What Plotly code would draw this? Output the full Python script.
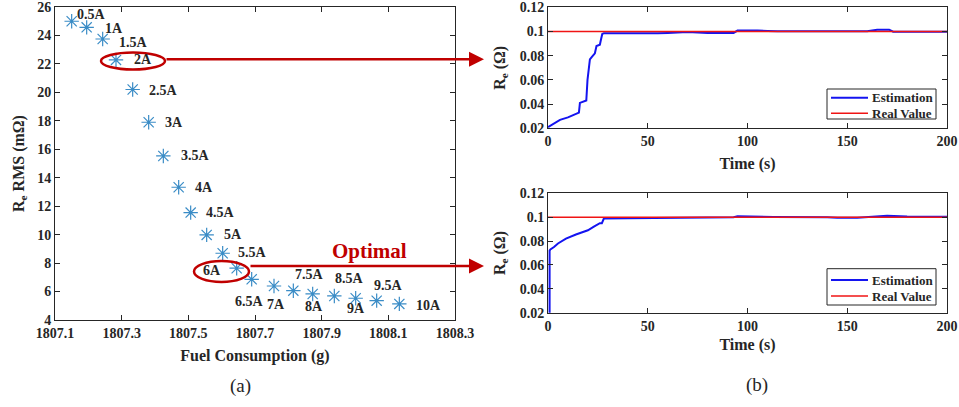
import plotly.graph_objects as go

# ---------------- data ----------------
current_labels = ["0.5A", "1A", "1.5A", "2A", "2.5A", "3A", "3.5A", "4A", "4.5A", "5A",
                  "5.5A", "6A", "6.5A", "7A", "7.5A", "8A", "8.5A", "9A", "9.5A", "10A"]
fuel_consumption = [1807.15, 1807.195, 1807.243, 1807.283, 1807.333, 1807.381, 1807.425,
                    1807.471, 1807.507, 1807.555, 1807.603, 1807.645, 1807.69, 1807.757,
                    1807.815, 1807.873, 1807.938, 1808.002, 1808.065, 1808.133]
re_rms = [25.0, 24.57, 23.75, 22.28, 20.2, 17.9, 15.53, 13.33, 11.55, 9.98,
          8.69, 7.64, 6.86, 6.39, 6.06, 5.83, 5.69, 5.53, 5.36, 5.13]

time_2a = [0, 3, 6, 10, 14, 15.5, 16, 18.5, 19.2, 19.8, 20.3, 21, 22, 23.5, 24.3, 26, 26.5,
           27.2, 28, 35, 45, 50, 55, 60, 70, 80, 93, 95, 100, 105, 110, 115, 160, 163, 165,
           171, 173, 185, 200]
est_2a = [0.021, 0.024, 0.027, 0.029, 0.032, 0.033, 0.041, 0.043, 0.043, 0.06, 0.07, 0.077,
          0.079, 0.082, 0.088, 0.089, 0.093, 0.098, 0.0985, 0.0985, 0.0983, 0.098, 0.0985,
          0.0988, 0.0995, 0.0988, 0.0988, 0.1008, 0.101, 0.1008, 0.1005, 0.1002, 0.1002,
          0.1008, 0.1015, 0.1015, 0.0998, 0.0998, 0.0997]

time_6a = [0.8, 0.8, 1.2, 3, 5, 9, 14, 17, 19, 20, 23, 26, 27, 27.5, 28, 40, 60, 80, 93, 95,
           110, 113, 140, 145, 155, 160, 168, 170, 180, 200]
est_6a = [0.015, 0.072, 0.073, 0.075, 0.078, 0.082, 0.0855, 0.087, 0.0885, 0.089, 0.092,
          0.095, 0.095, 0.098, 0.0988, 0.099, 0.0993, 0.0997, 0.1, 0.1008, 0.1008, 0.1002,
          0.1, 0.0995, 0.0995, 0.1, 0.1005, 0.1012, 0.1005, 0.1003]

real_time = [0, 200]
real_value = [0.1, 0.1]

series_names = ["Estimation", "Real Value"]

left_x_ticks = [1807.1, 1807.3, 1807.5, 1807.7, 1807.9, 1808.1, 1808.3]
left_y_ticks = [4, 6, 8, 10, 12, 14, 16, 18, 20, 22, 24, 26]
right_x_ticks = [0, 50, 100, 150, 200]
right_y_ticks = [0.02, 0.04, 0.06, 0.08, 0.1, 0.12]
right_y_ticktext = ["0.02", "0.04", "0.06", "0.08", "0.1", "0.12"]

# label offsets (pixels) for each current label: style only
label_dx = [20, 27, 31, 27, 31, 25, 32, 25, 30, 26, 30, -25, -2, 2, 16, 1, 15, 0, 12, 29]
label_dy = [-7, 1, 3, 0, 1, 0, 0, 0, 0, 0, -1, 2, 22, 18, -16, 13, -17, 10, -15, 2]

# ---------------- layout helpers ----------------
W, H = 959, 407
FONT = "Liberation Serif"
INK = "#262626"
RED = "#C00000"
BLUE_LINE = "#1414F0"
RED_LINE = "#F01414"


def px_x(p):
    return min(1.0, max(0.0, p / W))


def px_y(p):
    return min(1.0, max(0.0, 1 - p / H))


def axis_style(**kw):
    d = dict(showline=True, linecolor=INK, linewidth=1, mirror="ticks", ticks="inside",
             ticklen=5, tickcolor=INK, showgrid=False, zeroline=False, automargin=False,
             ticklabeloverflow="allow",
             tickfont=dict(family=FONT, size=14, color=INK, weight="bold"))
    d.update(kw)
    return d


fig = go.Figure()

fig.add_trace(go.Scatter(
    x=fuel_consumption, y=re_rms, mode="markers", xaxis="x", yaxis="y",
    marker=dict(symbol="asterisk-open", size=12, color="#3A8CC6",
                line=dict(width=1.2, color="#3A8CC6")),
    showlegend=False))

for xa, ya, tt, ee in [("x2", "y2", time_2a, est_2a), ("x3", "y3", time_6a, est_6a)]:
    fig.add_trace(go.Scatter(x=tt, y=ee, mode="lines", name=series_names[0],
                             xaxis=xa, yaxis=ya, line=dict(color=BLUE_LINE, width=2),
                             showlegend=False))
    fig.add_trace(go.Scatter(x=real_time, y=real_value, mode="lines", name=series_names[1],
                             xaxis=xa, yaxis=ya, line=dict(color=RED_LINE, width=1.5),
                             showlegend=False))

title_font = dict(family=FONT, size=16, color=INK, weight="bold")

fig.update_layout(
    width=W, height=H, margin=dict(l=0, r=0, t=0, b=0),
    paper_bgcolor="white", plot_bgcolor="white",
    font=dict(family=FONT, color=INK),
    xaxis=axis_style(domain=[px_x(55), px_x(455)], range=[1807.1, 1808.3],
                     tickvals=left_x_ticks, ticktext=[f"{v:.1f}" for v in left_x_ticks],
                     anchor="y",
                     title=dict(text="Fuel Consumption (g)", font=title_font, standoff=10)),
    yaxis=axis_style(domain=[px_y(320), px_y(7)], range=[4, 26], tickvals=left_y_ticks,
                     anchor="x",
                     title=dict(text="R<sub>e</sub> RMS (mΩ)", font=title_font, standoff=8)),
    xaxis2=axis_style(domain=[px_x(548), px_x(947)], range=[0, 200], tickvals=right_x_ticks,
                      anchor="y2",
                      title=dict(text="Time (s)", font=title_font, standoff=9)),
    yaxis2=axis_style(domain=[px_y(128.3), px_y(7.3)], range=[0.02, 0.12],
                      tickvals=right_y_ticks, ticktext=right_y_ticktext, anchor="x2",
                      title=dict(text="R<sub>e</sub> (Ω)", font=title_font, standoff=10)),
    xaxis3=axis_style(domain=[px_x(548), px_x(947)], range=[0, 200], tickvals=right_x_ticks,
                      anchor="y3",
                      title=dict(text="Time (s)", font=title_font, standoff=6)),
    yaxis3=axis_style(domain=[px_y(312.7), px_y(193.3)], range=[0.02, 0.12],
                      tickvals=right_y_ticks, ticktext=right_y_ticktext, anchor="x3",
                      title=dict(text="R<sub>e</sub> (Ω)", font=title_font, standoff=10)),
)

# point labels
for lab, xv, yv, dx, dy in zip(current_labels, fuel_consumption, re_rms, label_dx, label_dy):
    fig.add_annotation(x=xv, y=yv, xref="x", yref="y", text=lab, showarrow=False,
                       xshift=dx, yshift=-dy,
                       font=dict(family=FONT, size=14, color=INK, weight="bold"))

# legends (MATLAB-style boxes inside each right panel)
for box_top, box_bot, row1, row2 in [(89, 119, 97.7, 113.3), (268.7, 305, 280, 296)]:
    fig.add_shape(type="rect", xref="paper", yref="paper",
                  x0=px_x(827), x1=px_x(936), y0=px_y(box_bot), y1=px_y(box_top),
                  line=dict(color=INK, width=1), fillcolor="white", layer="above")
    for name, color, width, yy in [(series_names[0], BLUE_LINE, 2, row1),
                                   (series_names[1], RED_LINE, 1.5, row2)]:
        fig.add_shape(type="line", xref="paper", yref="paper",
                      x0=px_x(831), x1=px_x(868), y0=px_y(yy), y1=px_y(yy),
                      line=dict(color=color, width=width), layer="above")
        fig.add_annotation(x=px_x(870), y=px_y(yy), xref="paper", yref="paper", text=name,
                           showarrow=False, xanchor="left", yanchor="middle",
                           font=dict(family=FONT, size=13, color=INK, weight="bold"))

# red ellipses
fig.add_shape(type="circle", xref="paper", yref="paper",
              x0=px_x(101), x1=px_x(165), y0=px_y(69.5), y1=px_y(52.5),
              line=dict(color=RED, width=2.5))
fig.add_shape(type="circle", xref="paper", yref="paper",
              x0=px_x(194), x1=px_x(249), y0=px_y(282), y1=px_y(261),
              line=dict(color=RED, width=2.5))

# arrows
for y0, x0 in [(59.3, 165), (266, 249)]:
    fig.add_annotation(x=px_x(484), y=px_y(y0), xref="paper", yref="paper",
                       ax=-(484 - x0), ay=0, axref="pixel", ayref="pixel",
                       showarrow=True, arrowhead=2, arrowsize=1.2, arrowwidth=2.5,
                       arrowcolor=RED, text="")

fig.add_annotation(x=px_x(369), y=px_y(251), xref="paper", yref="paper", text="Optimal",
                   showarrow=False, xanchor="center", yanchor="middle",
                   font=dict(family=FONT, size=21, color=RED, weight="bold"))

# panel labels
fig.add_annotation(x=px_x(240), y=px_y(386), xref="paper", yref="paper", text="(a)",
                   showarrow=False, xanchor="center", yanchor="middle",
                   font=dict(family=FONT, size=19, color=INK, weight="normal"))
fig.add_annotation(x=px_x(757), y=px_y(385), xref="paper", yref="paper", text="(b)",
                   showarrow=False, xanchor="center", yanchor="middle",
                   font=dict(family=FONT, size=19, color=INK, weight="normal"))

# remove the browser's default 8px page margin so the figure fills the window exactly
fig.write_html("out.html", config={"displayModeBar": False},
               post_script="document.body.style.margin='0px';")
